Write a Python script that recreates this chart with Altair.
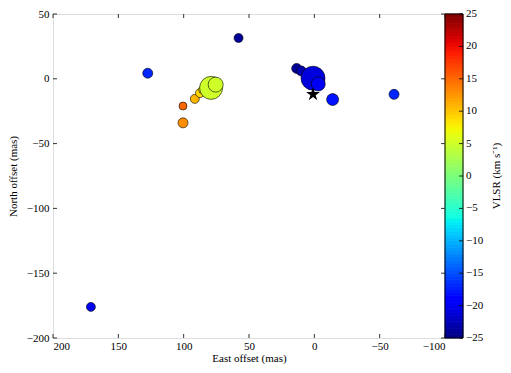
import altair as alt
import pandas as pd
import numpy as np

# Maser spots
east_offset = [171, 127.5, 58, 100.5, 100.5, 91.5, 87.5, 85.5, 79, 75.5, 13.5, 10, 1, -3, -14, -61]
north_offset = [-176, 4.3, 31.5, -34, -21, -15.5, -11, -8.5, -7, -4.5, 8, 6, 0.5, -4, -16, -12]
vlsr = [-20, -17, -24, 13, 15, 11, 9, 8, 5, 5, -24, -23, -21, -20, -18, -17]
flux = [0.81, 1.0, 0.81, 1.0, 0.64, 0.81, 0.81, 0.64, 5.3, 2.25, 1.0, 1.0, 5.76, 1.96, 1.44, 1.0]

star_east = [1]
star_north = [-12]

x_ticks = [200, 150, 100, 50, 0, -50, -100]
y_ticks = [50, 0, -50, -100, -150, -200]
cbar_ticks = [-25, -20, -15, -10, -5, 0, 5, 10, 15, 20, 25]
cbar_title = ["VLSR (km s⁻¹)"]

FONT = "Liberation Serif"
W, H = 392, 324
CB = 18  # colorbar thickness

df = pd.DataFrame({"east": east_offset, "north": north_offset, "v": vlsr,
                   "flux": flux, "order": list(range(len(vlsr)))})
star = pd.DataFrame({"east": star_east, "north": star_north})

# five-pointed star symbol path (unit coordinates)
_ang = np.deg2rad(-90 + 36 * np.arange(10))
_rad = np.where(np.arange(10) % 2 == 0, 1.0, 0.382)
STAR_PATH = "M" + "L".join("%.3f,%.3f" % (r * np.cos(a), r * np.sin(a)) for r, a in zip(_rad, _ang)) + "Z"

# jet colormap stops
def jet(t):
    r = np.interp(t, [0, 0.35, 0.66, 0.89, 1], [0, 0, 1, 1, 0.5])
    g = np.interp(t, [0, 0.125, 0.375, 0.64, 0.91, 1], [0, 0, 1, 1, 0, 0])
    b = np.interp(t, [0, 0.11, 0.34, 0.65, 1], [0.5, 1, 1, 0, 0])
    return "#%02x%02x%02x" % (int(round(r * 255)), int(round(g * 255)), int(round(b * 255)))

ts = np.linspace(0, 1, 41)
cdomain = [float(-25 + 50 * t) for t in ts]
crange = [jet(t) for t in ts]
cscale = alt.Scale(domain=cdomain, range=crange, type="linear")

xscale = alt.Scale(domain=[-100, 200], reverse=True, nice=False, zero=False)
yscale = alt.Scale(domain=[-200, 50], nice=False, zero=False)
cyscale = alt.Scale(domain=[-25, 25], nice=False, zero=False)

xaxis = alt.Axis(values=x_ticks, title="East offset (mas)", grid=False, domain=False,
                 tickSize=0, labelPadding=2, labelFont=FONT, labelFontSize=11,
                 titleFont=FONT, titleFontSize=11, titleFontWeight="normal",
                 labelColor="black", titleColor="black", titlePadding=1)
yaxis = alt.Axis(values=y_ticks, title="North offset (mas)", grid=False, domain=False,
                 tickSize=0, labelPadding=4, labelFont=FONT, labelFontSize=11,
                 titleFont=FONT, titleFontSize=11, titleFontWeight="normal",
                 labelColor="black", titleColor="black", titlePadding=8,
                 labelOverlap=False)

points = alt.Chart(df).mark_circle(opacity=1, stroke="black", strokeWidth=0.6).encode(
    x=alt.X("east:Q", scale=xscale, axis=xaxis),
    y=alt.Y("north:Q", scale=yscale, axis=yaxis),
    color=alt.Color("v:Q", scale=cscale, legend=None),
    size=alt.Size("flux:Q", scale=alt.Scale(domain=[0, 6.25], range=[0, 625]), legend=None),
    order=alt.Order("order:Q"),
)

stars = alt.Chart(star).mark_point(shape=STAR_PATH, filled=True, color="black", size=210, opacity=1).encode(
    x=alt.X("east:Q", scale=xscale),
    y=alt.Y("north:Q", scale=yscale),
)

xt = pd.DataFrame({"t": x_ticks})
yt = pd.DataFrame({"t": y_ticks})
tick_bottom = alt.Chart(xt).mark_rule(color="black", strokeWidth=0.8).encode(
    x=alt.X("t:Q", scale=xscale), y=alt.value(H), y2=alt.value(H - 4))
tick_top = alt.Chart(xt).mark_rule(color="black", strokeWidth=0.8).encode(
    x=alt.X("t:Q", scale=xscale), y=alt.value(0), y2=alt.value(4))
tick_left = alt.Chart(yt).mark_rule(color="black", strokeWidth=0.8).encode(
    y=alt.Y("t:Q", scale=yscale), x=alt.value(0), x2=alt.value(4))
tick_right = alt.Chart(yt).mark_rule(color="black", strokeWidth=0.8).encode(
    y=alt.Y("t:Q", scale=yscale), x=alt.value(W), x2=alt.value(W - 4))

main = alt.layer(points, stars, tick_bottom, tick_top, tick_left, tick_right)

# colorbar
step = 0.5
cb_lo = np.arange(-25, 25, step)
cbdf = pd.DataFrame({"lo": cb_lo, "hi": cb_lo + step, "v": cb_lo + step / 2})
cb_rects = alt.Chart(cbdf).mark_rect(strokeWidth=0.8).encode(
    y=alt.Y("lo:Q", scale=cyscale, axis=None),
    y2="hi:Q",
    x=alt.value(W), x2=alt.value(W + CB),
    color=alt.Color("v:Q", scale=cscale, legend=None),
    stroke=alt.Stroke("v:Q", scale=cscale, legend=None),
)
cb_border = alt.Chart(pd.DataFrame({"a": [0]})).mark_rect(fill=None, stroke="black", strokeWidth=1).encode(
    x=alt.value(W), x2=alt.value(W + CB), y=alt.value(0), y2=alt.value(H))
ct = pd.DataFrame({"t": cbar_ticks, "lab": [str(t).replace("-", "\u2212") for t in cbar_ticks]})
cb_ticks = alt.Chart(ct).mark_rule(color="black", strokeWidth=0.8).encode(
    y=alt.Y("t:Q", scale=cyscale, axis=None), x=alt.value(W + CB), x2=alt.value(W + CB - 4))
cb_labels = alt.Chart(ct).mark_text(align="left", baseline="middle", font=FONT, fontSize=11,
                                    color="black").encode(
    y=alt.Y("t:Q", scale=cyscale, axis=None), x=alt.value(W + CB + 3), text="lab:N")
cb_title = alt.Chart(pd.DataFrame({"t": cbar_title})).mark_text(
    angle=270, align="center", baseline="middle", font=FONT, fontSize=11, color="black"
).encode(x=alt.value(W + CB + 34), y=alt.value(H / 2), text="t:N")
colorbar = alt.layer(cb_rects, cb_ticks, cb_border, cb_labels, cb_title)

chart = alt.layer(main, colorbar).resolve_scale(y="independent").properties(
    width=W, height=H,
    autosize=alt.AutoSizeParams(type="none"),
    padding={"left": 45, "top": 6, "right": 58, "bottom": 27},
).configure_view(stroke="black", strokeWidth=1.2).configure(background="white")

chart.save("out.html", embed_options={"renderer": "svg", "actions": False})
